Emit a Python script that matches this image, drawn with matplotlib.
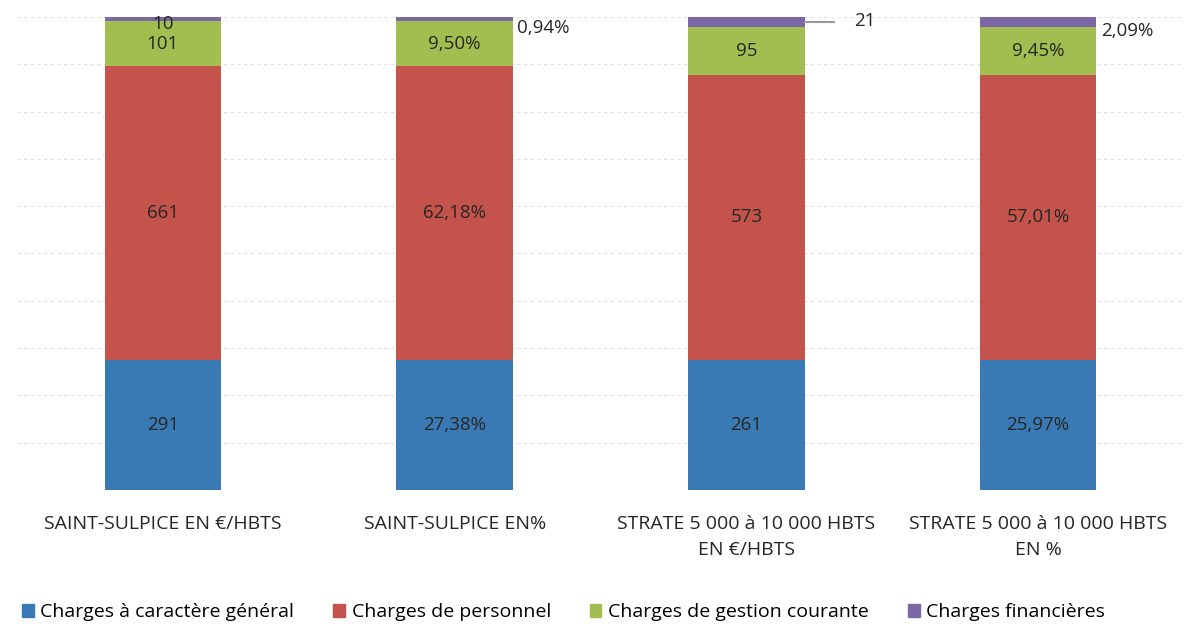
import numpy as np
import matplotlib.pyplot as plt
from matplotlib.patches import Patch

plt.rcParams['font.family'] = ['Open Sans', 'DejaVu Sans']

categories = ["SAINT-SULPICE EN €/HBTS", "SAINT-SULPICE EN%",
              "STRATE 5 000 à 10 000 HBTS\nEN €/HBTS", "STRATE 5 000 à 10 000 HBTS\nEN %"]
series_names = ["Charges à caractère général", "Charges de personnel",
                "Charges de gestion courante", "Charges financières"]
general = [291, 27.38, 261, 25.97]
personnel = [661, 62.18, 573, 57.01]
gestion = [101, 9.50, 95, 9.45]
financieres = [10, 0.94, 21, 2.09]
is_percent = [False, True, False, True]

colors = ["#3a7ab4", "#c4544b", "#a2be50", "#7c68a6"]

data = np.array([general, personnel, gestion, financieres], dtype=float)
shares = data / data.sum(axis=0) * 100

def fmt(v, pct):
    if pct:
        return f"{v:.2f}".replace(".", ",") + "%"
    return f"{v:.0f}"

fig = plt.figure(figsize=(11.84, 6.28), dpi=100)
ax = fig.add_axes([0.0144, 0.22, 0.9856, 0.753])
x = np.arange(len(categories))
width = 0.4
txt = "#262626"

bottom = np.zeros(len(categories))
for i in range(len(series_names)):
    ax.bar(x, shares[i], width, bottom=bottom, color=colors[i], zorder=2)
    for j in range(len(categories)):
        label = fmt(data[i, j], is_percent[j])
        yc = bottom[j] + shares[i, j] / 2
        if i < 3:
            ax.text(x[j], yc, label, ha="center", va="center", fontsize=13.5, color=txt, zorder=3)
        elif j == 0:
            ax.text(x[j], 98.6, label, ha="center", va="center", fontsize=13.5, color=txt, zorder=3)
        elif j == 2:
            ax.plot([x[j] + width / 2, x[j] + width / 2 + 0.1], [yc, yc], color="#999999", lw=1.5, zorder=3)
            ax.text(x[j] + width / 2 + 0.17, yc + 0.3, label, ha="left", va="center", fontsize=13.5, color=txt)
        else:
            ax.text(x[j] + width / 2 + 0.015, yc - 1.8, label, ha="left", va="center", fontsize=13.5, color=txt)
    bottom += shares[i]

ax.set_ylim(0, 100)
ax.set_xlim(-0.5, len(categories) - 0.5)
ax.set_yticks(np.arange(0, 101, 10))
ax.yaxis.grid(True, color="#e0e0e0", lw=0.8, ls=(0, (3, 3)), zorder=0)
ax.set_yticklabels([])
ax.tick_params(length=0)
ax.set_xticks(x)
ax.set_xticklabels(categories, fontsize=14, color=txt, linespacing=1.6)
ax.tick_params(axis="x", pad=18)
for s in ax.spines.values():
    s.set_visible(False)

handles = [Patch(color=c) for c in colors]
fig.legend(handles, series_names, loc="center", bbox_to_anchor=(0.476, 0.025), ncol=4,
           frameon=False, fontsize=14, handlelength=0.6, handleheight=0.6,
           handletextpad=0.35, columnspacing=2.0)

fig.savefig("out.png", dpi=100)
